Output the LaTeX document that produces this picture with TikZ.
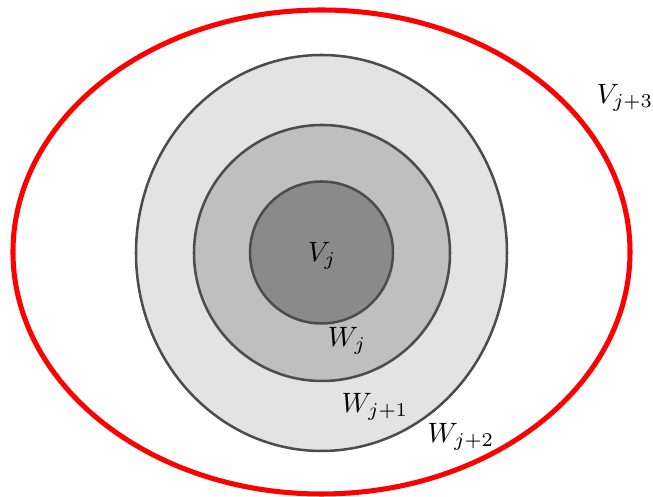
\documentclass[tikz,border=0pt]{standalone}
\begin{document}
\begin{tikzpicture}[x=0.357pt, y=-0.357pt,
  ring/.style={draw=black!70, line width=0.9pt},
  lbl/.style={inner sep=0pt}]
\useasboundingbox (0,0) rectangle (653,497);
\draw[red, line width=1.8pt] (321.5,252) ellipse [x radius=308.5, y radius=242];
\draw[ring, fill=black!11] (321.5,253) ellipse [x radius=185.5, y radius=198];
\draw[ring, fill=black!25] (322,253) ellipse [x radius=128, y radius=128];
\draw[ring, fill=black!46] (321.5,252.5) ellipse [x radius=71.5, y radius=71];
\node[lbl] (vj) at (322,256) {$V_j$};
\node[lbl] (wj) at (347,341) {$W_j$};
\node[lbl] (wj1) at (375,407) {$W_{j+1}$};
\node[lbl] (wj2) at (461,437) {$W_{j+2}$};
\node[lbl] (vj3) at (625,98) {$V_{j+3}$};
\end{tikzpicture}
\end{document}
